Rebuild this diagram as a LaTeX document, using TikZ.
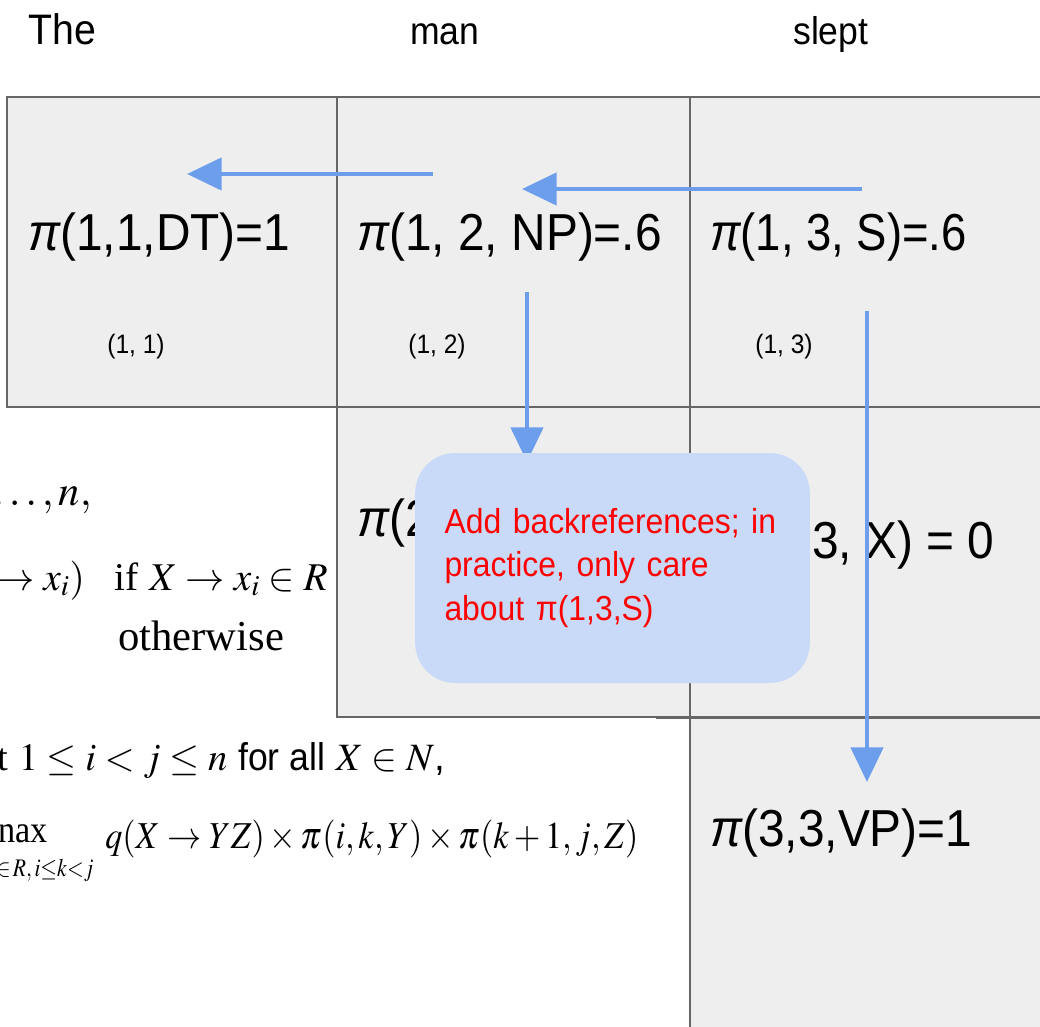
\documentclass[tikz,border=0pt]{standalone}
\usepackage{mathptmx}
\usepackage[no-math]{fontspec}
\setmainfont{Liberation Sans}
\newfontfamily\nsans[FakeStretch=0.92]{Liberation Sans}
\newfontfamily\tser{Liberation Serif}
\usepackage{graphicx}
\usetikzlibrary{arrows.meta}
\definecolor{cellgray}{HTML}{EEEEEE}
\definecolor{bordergray}{HTML}{666666}
\definecolor{arrowblue}{HTML}{6D9EEB}
\definecolor{calloutblue}{HTML}{C9DAF8}
\definecolor{notered}{HTML}{FF0000}
\begin{document}
\begin{tikzpicture}[x=0.75pt,y=-0.75pt,
  cell/.style={fill=cellgray,draw=bordergray,line width=1.4pt},
  bigtxt/.style={font=\nsans\fontsize{39pt}{44pt}\selectfont,inner sep=0pt,anchor=west},
  smalltxt/.style={font=\nsans\fontsize{20pt}{24pt}\selectfont,inner sep=0pt},
  wordtxt/.style={font=\nsans\fontsize{29pt}{34pt}\selectfont,inner sep=0pt,anchor=base west},
  backarrow/.style={draw=arrowblue,line width=3.5pt,-{Triangle[length=26pt,width=24pt]}},
  callout/.style={fill=calloutblue,rounded corners=30pt,minimum width=296pt,minimum height=172.5pt,inner xsep=22pt,text width=252pt,align=left,
    text=notered,font=\nsans\fontsize{26pt}{32.5pt}\selectfont},
  mathbig/.style={font=\fontsize{32pt}{38pt}\selectfont,inner sep=0pt},
  mathsmall/.style={font=\fontsize{28.5pt}{34pt}\selectfont,inner sep=0pt}
]
\useasboundingbox[fill=white] (0,0) rectangle (1040,1027);

% words
\node[wordtxt,font=\nsans\fontsize{32pt}{36pt}\selectfont] (wThe) at (28,45) {The};
\node[wordtxt] (wman) at (410,45) {man};
\node[wordtxt] (wslept) at (793,45) {slept};

% chart cells
\draw[cell] (7,97) rectangle (337,407);
\draw[cell] (337,97) rectangle (690,407);
\draw[cell] (690,97) rectangle (1045,407);
\draw[cell] (337,407) rectangle (690,717);
\draw[cell] (690,407) rectangle (1045,717);
\draw[cell] (690,718) rectangle (1045,1032);
\draw[draw=bordergray,line width=1.4pt] (656,718) -- (690,718);

% cell texts
\node[bigtxt] (p11) at (28,237) {{\itshape π}(1,1,DT)=1};
\node[bigtxt] (p12) at (357,237) {{\itshape π}(1, 2, NP)=.6};
\node[bigtxt,xscale=0.95] (p13) at (710,237) {{\itshape π}(1, 3, S)=.6};
\node[smalltxt] (l11) at (136,347) {(1, 1)};
\node[smalltxt] (l12) at (437,347) {(1, 2)};
\node[smalltxt] (l13) at (784,347) {(1, 3)};
\node[bigtxt] (p22) at (357,523) {{\itshape π}(2};
\node[bigtxt] (p23) at (812,545) {3, X) = 0};
\node[bigtxt] (p33) at (710,833) {{\itshape π}(3,3,VP)=1};

% algorithm fragment
\node[mathbig,anchor=base west] (m1) at (-8,505) {$\ldots, n,$};
\node[mathbig,anchor=base east,font=\fontsize{29.5pt}{36pt}\selectfont] (m2) at (328,590) {$\rightarrow x_i)$\hspace{0.75em}{\tser if} $X\rightarrow x_i\in R$};
\node[mathbig,anchor=base west] (m3) at (118,650) {\tser otherwise};
\node[mathsmall,anchor=base west,font=\fontsize{29pt}{34pt}\selectfont] (m4) at (-3,770) {{\tser t} $1\leq i<j\leq n$ {\nsans for all} $X\in N$,};
\node[mathsmall,anchor=base west] (m5) at (-2,842) {\scalebox{0.9}[1]{\tser nax}};
\node[font=\fontsize{19pt}{22pt}\selectfont,inner sep=0pt,anchor=base west] (m5s) at (-4,876) {\scalebox{0.85}[1]{$\in\!R,i{\leq}k{<}j$}};
\node[mathsmall,anchor=base west] (m6) at (105,848) {\scalebox{0.9}[1]{$q(X\rightarrow YZ)\times \pi(i,k,Y)\times\pi(k+1,j,Z)$}};

% backpointer arrows
\coordinate (a1s) at (433,174); \coordinate (a1e) at (187,174);
\coordinate (a2s) at (862,189); \coordinate (a2e) at (522,189);
\coordinate (a3s) at (527,292); \coordinate (a3e) at (527,462);
\coordinate (a4s) at (867,311); \coordinate (a4e) at (867,782);
\draw[backarrow] (a1s) -- (a1e);
\draw[backarrow] (a2s) -- (a2e);
\draw[backarrow] (a3s) -- (a3e);
\draw[backarrow] (a4s) -- (a4e);

% note
\node[callout] (note) at (612.5,568) {Add backreferences; in\\ practice, only care\\ about π(1,3,S)};
\end{tikzpicture}
\end{document}
